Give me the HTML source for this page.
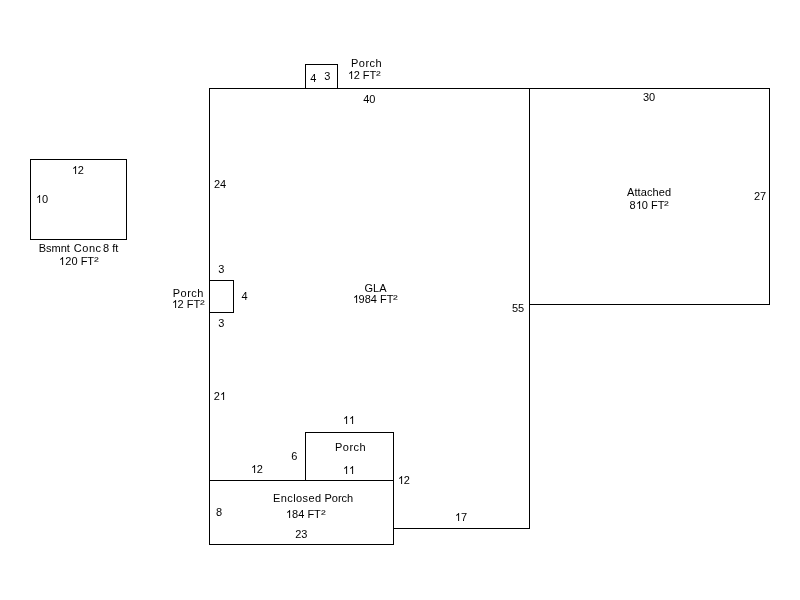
<!DOCTYPE html>
<html>
<head>
<meta charset="utf-8">
<title>Sketch</title>
<style>
html,body{margin:0;padding:0;background:#fff;}
#c{position:relative;width:800px;height:600px;overflow:hidden;font-family:"Liberation Sans",sans-serif;font-size:11px;line-height:13px;color:#000;will-change:transform;}
.t{position:absolute;white-space:pre;}
.l{position:absolute;background:#000;}
.o{width:6.118px;height:7.906px;vertical-align:baseline;fill:#000;overflow:visible;}
.s{display:inline-block;transform:scale(1.3,.85);transform-origin:0 2px;}
</style>
</head>
<body>
<div id="c">
<div class="l" style="left:209px;top:88px;width:561px;height:1px"></div>
<div class="l" style="left:209px;top:88px;width:1px;height:457px"></div>
<div class="l" style="left:529px;top:88px;width:1px;height:441px"></div>
<div class="l" style="left:393px;top:528px;width:137px;height:1px"></div>
<div class="l" style="left:769px;top:88px;width:1px;height:217px"></div>
<div class="l" style="left:529px;top:304px;width:241px;height:1px"></div>
<div class="l" style="left:305px;top:64px;width:33px;height:1px"></div>
<div class="l" style="left:305px;top:64px;width:1px;height:25px"></div>
<div class="l" style="left:337px;top:64px;width:1px;height:25px"></div>
<div class="l" style="left:209px;top:280px;width:25px;height:1px"></div>
<div class="l" style="left:233px;top:280px;width:1px;height:33px"></div>
<div class="l" style="left:209px;top:312px;width:25px;height:1px"></div>
<div class="l" style="left:305px;top:432px;width:89px;height:1px"></div>
<div class="l" style="left:305px;top:432px;width:1px;height:49px"></div>
<div class="l" style="left:393px;top:432px;width:1px;height:113px"></div>
<div class="l" style="left:209px;top:480px;width:185px;height:1px"></div>
<div class="l" style="left:209px;top:544px;width:185px;height:1px"></div>
<div class="l" style="left:30px;top:159px;width:97px;height:1px"></div>
<div class="l" style="left:30px;top:239px;width:97px;height:1px"></div>
<div class="l" style="left:30px;top:159px;width:1px;height:81px"></div>
<div class="l" style="left:126px;top:159px;width:1px;height:81px"></div>
<div class="t" style="left:310.25px;top:72px">4</div>
<div class="t" style="left:324.25px;top:70px">3</div>
<div class="t" style="left:351px;top:57px;letter-spacing:0.5px">Porch</div>
<div class="t" style="left:347.75px;top:69px"><svg class="o" viewBox="0 0 1139 1472"><path d="M763 0H583V1147Q518 1085 412.5 1023Q307 961 223 930V1104Q374 1175 487 1276Q600 1377 647 1472H763Z" transform="translate(0,1472) scale(1,-1)"/></svg>2</div>
<div class="t" style="left:362.75px;top:69px">FT<span class="s">&sup2;</span></div>
<div class="t" style="left:363.25px;top:93px">40</div>
<div class="t" style="left:643px;top:91px">30</div>
<div class="t" style="left:214px;top:178px">24</div>
<div class="t" style="left:627px;top:186px;letter-spacing:0.11px">Attached</div>
<div class="t" style="left:629.5px;top:199px">8<svg class="o" viewBox="0 0 1139 1472"><path d="M763 0H583V1147Q518 1085 412.5 1023Q307 961 223 930V1104Q374 1175 487 1276Q600 1377 647 1472H763Z" transform="translate(0,1472) scale(1,-1)"/></svg>0 FT<span class="s">&sup2;</span></div>
<div class="t" style="left:754px;top:190px">27</div>
<div class="t" style="left:71.75px;top:164px"><svg class="o" viewBox="0 0 1139 1472"><path d="M763 0H583V1147Q518 1085 412.5 1023Q307 961 223 930V1104Q374 1175 487 1276Q600 1377 647 1472H763Z" transform="translate(0,1472) scale(1,-1)"/></svg>2</div>
<div class="t" style="left:36px;top:193px"><svg class="o" viewBox="0 0 1139 1472"><path d="M763 0H583V1147Q518 1085 412.5 1023Q307 961 223 930V1104Q374 1175 487 1276Q600 1377 647 1472H763Z" transform="translate(0,1472) scale(1,-1)"/></svg>0</div>
<div class="t" style="left:38.75px;top:242px">Bsmnt</div>
<div class="t" style="left:73.75px;top:242px;letter-spacing:0.55px">Conc</div>
<div class="t" style="left:103px;top:242px">8</div>
<div class="t" style="left:112.25px;top:242px">ft</div>
<div class="t" style="left:59.25px;top:255px"><svg class="o" viewBox="0 0 1139 1472"><path d="M763 0H583V1147Q518 1085 412.5 1023Q307 961 223 930V1104Q374 1175 487 1276Q600 1377 647 1472H763Z" transform="translate(0,1472) scale(1,-1)"/></svg>20 FT<span class="s">&sup2;</span></div>
<div class="t" style="left:218.25px;top:263px">3</div>
<div class="t" style="left:172.75px;top:287px;letter-spacing:0.5px">Porch</div>
<div class="t" style="left:171.5px;top:298px"><svg class="o" viewBox="0 0 1139 1472"><path d="M763 0H583V1147Q518 1085 412.5 1023Q307 961 223 930V1104Q374 1175 487 1276Q600 1377 647 1472H763Z" transform="translate(0,1472) scale(1,-1)"/></svg>2 FT<span class="s">&sup2;</span></div>
<div class="t" style="left:241.5px;top:290px">4</div>
<div class="t" style="left:218.25px;top:317px">3</div>
<div class="t" style="left:364.5px;top:282px">GLA</div>
<div class="t" style="left:352.5px;top:293px"><svg class="o" viewBox="0 0 1139 1472"><path d="M763 0H583V1147Q518 1085 412.5 1023Q307 961 223 930V1104Q374 1175 487 1276Q600 1377 647 1472H763Z" transform="translate(0,1472) scale(1,-1)"/></svg>984 FT<span class="s">&sup2;</span></div>
<div class="t" style="left:512px;top:302px">55</div>
<div class="t" style="left:213.75px;top:390px">2<svg class="o" viewBox="0 0 1139 1472"><path d="M763 0H583V1147Q518 1085 412.5 1023Q307 961 223 930V1104Q374 1175 487 1276Q600 1377 647 1472H763Z" transform="translate(0,1472) scale(1,-1)"/></svg></div>
<div class="t" style="left:343px;top:414px"><svg class="o" viewBox="0 0 1139 1472"><path d="M763 0H583V1147Q518 1085 412.5 1023Q307 961 223 930V1104Q374 1175 487 1276Q600 1377 647 1472H763Z" transform="translate(0,1472) scale(1,-1)"/></svg><svg class="o" viewBox="0 0 1139 1472"><path d="M763 0H583V1147Q518 1085 412.5 1023Q307 961 223 930V1104Q374 1175 487 1276Q600 1377 647 1472H763Z" transform="translate(0,1472) scale(1,-1)"/></svg></div>
<div class="t" style="left:335px;top:441px;letter-spacing:0.5px">Porch</div>
<div class="t" style="left:291.25px;top:450px">6</div>
<div class="t" style="left:343px;top:464px"><svg class="o" viewBox="0 0 1139 1472"><path d="M763 0H583V1147Q518 1085 412.5 1023Q307 961 223 930V1104Q374 1175 487 1276Q600 1377 647 1472H763Z" transform="translate(0,1472) scale(1,-1)"/></svg><svg class="o" viewBox="0 0 1139 1472"><path d="M763 0H583V1147Q518 1085 412.5 1023Q307 961 223 930V1104Q374 1175 487 1276Q600 1377 647 1472H763Z" transform="translate(0,1472) scale(1,-1)"/></svg></div>
<div class="t" style="left:250.75px;top:463px"><svg class="o" viewBox="0 0 1139 1472"><path d="M763 0H583V1147Q518 1085 412.5 1023Q307 961 223 930V1104Q374 1175 487 1276Q600 1377 647 1472H763Z" transform="translate(0,1472) scale(1,-1)"/></svg>2</div>
<div class="t" style="left:397.75px;top:474px"><svg class="o" viewBox="0 0 1139 1472"><path d="M763 0H583V1147Q518 1085 412.5 1023Q307 961 223 930V1104Q374 1175 487 1276Q600 1377 647 1472H763Z" transform="translate(0,1472) scale(1,-1)"/></svg>2</div>
<div class="t" style="left:273px;top:492px;letter-spacing:0.42px">Enclosed</div>
<div class="t" style="left:324.5px;top:492px">Porch</div>
<div class="t" style="left:286px;top:508px"><svg class="o" viewBox="0 0 1139 1472"><path d="M763 0H583V1147Q518 1085 412.5 1023Q307 961 223 930V1104Q374 1175 487 1276Q600 1377 647 1472H763Z" transform="translate(0,1472) scale(1,-1)"/></svg>84 FT<span class="s">&sup2;</span></div>
<div class="t" style="left:216px;top:506px">8</div>
<div class="t" style="left:295.25px;top:528px">23</div>
<div class="t" style="left:455px;top:511px"><svg class="o" viewBox="0 0 1139 1472"><path d="M763 0H583V1147Q518 1085 412.5 1023Q307 961 223 930V1104Q374 1175 487 1276Q600 1377 647 1472H763Z" transform="translate(0,1472) scale(1,-1)"/></svg>7</div>
</div>
</body>
</html>
